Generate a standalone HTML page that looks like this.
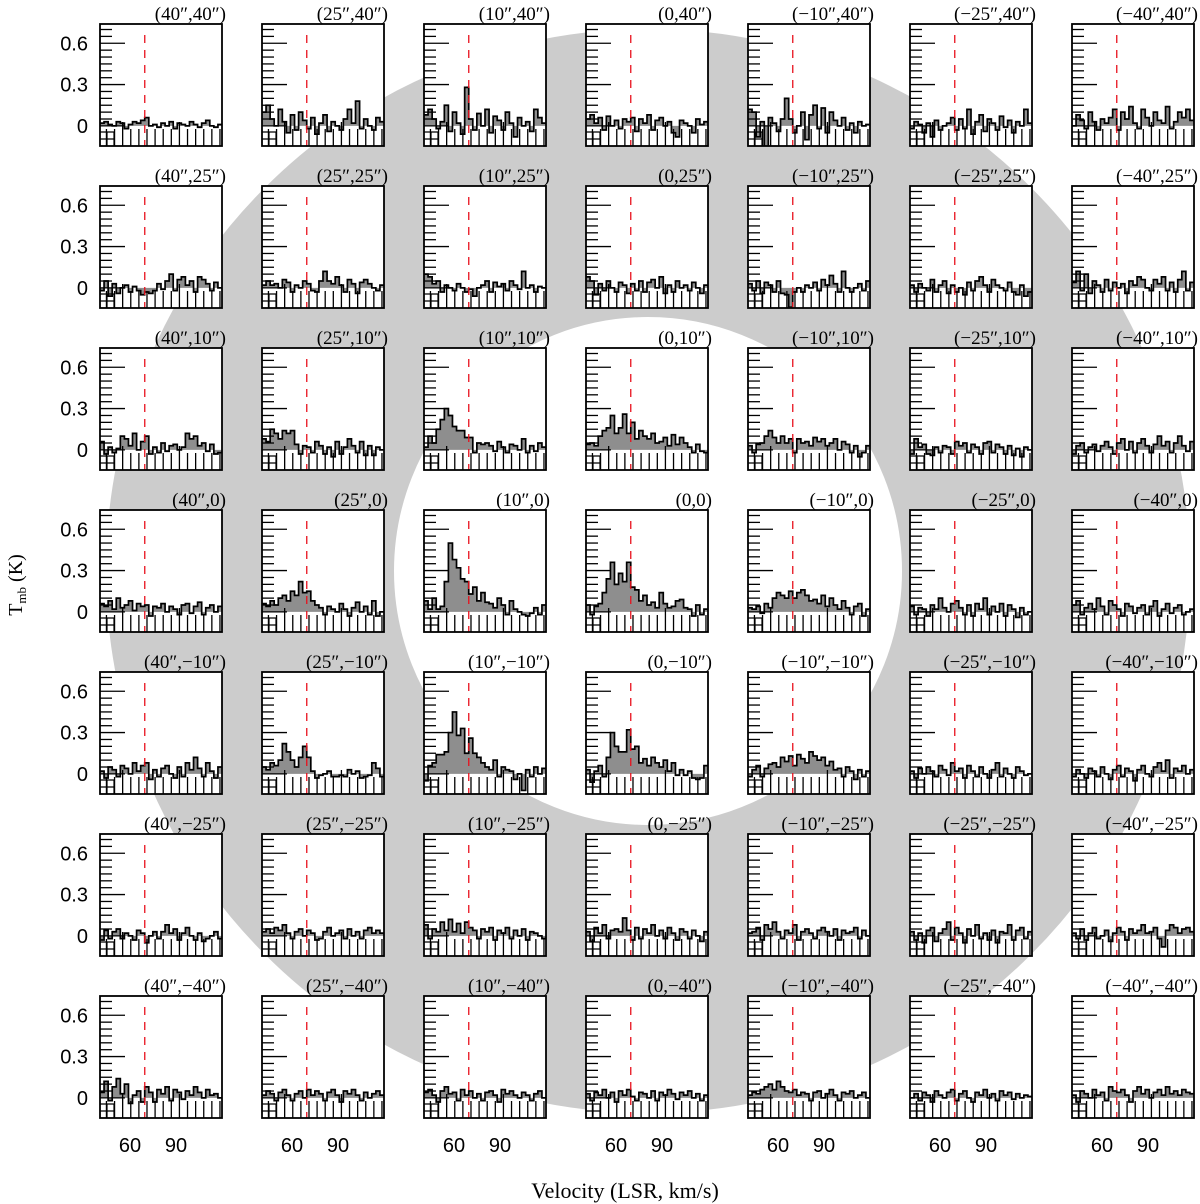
<!DOCTYPE html>
<html><head><meta charset="utf-8"><style>
body{margin:0;background:#fff}
svg{display:block}
</style></head><body>
<svg id="chart" width="1200" height="1204" viewBox="0 0 1200 1204" xmlns="http://www.w3.org/2000/svg">
<circle cx="648" cy="571" r="398" fill="none" stroke="#cccccc" stroke-width="288"/>
<g id="panels"></g>
<text transform="translate(22,585) rotate(-90)" text-anchor="middle" font-family="Liberation Serif, serif" font-size="20">T<tspan font-size="13" dy="4">mb</tspan><tspan dy="-4"> (K)</tspan></text>
<text x="625" y="1198" text-anchor="middle" font-family="Liberation Serif, serif" font-size="22">Velocity (LSR, km/s)</text>
</svg>
<script>
const xOffsets = ["40″","25″","10″","0","−10″","−25″","−40″"];
const yOffsets = ["40″","25″","10″","0","−10″","−25″","−40″"];
const yTickLabels = ["0","0.3","0.6"];
const yTickValues = [0,0.3,0.6];
const xTickLabels = ["60","90"];
const vStart = 48, vEnd = 112.6;
const vRef = 71.7;
// spectra in units of 0.01 K, rows = y offset (40..-40), cols = x offset (40..-40)
const spectra = [
[
[2,3,1,0,3,2,-2,1,3,2,4,6,0,1,-1,2,0,3,-2,2,1,0,3,1,-1,2,4,0,-1,1],
[10,15,5,0,12,3,-5,8,-3,10,4,-2,6,-6,2,8,-4,3,0,-3,5,12,2,18,-2,5,0,-3,6,3],
[8,12,5,-2,3,15,-4,10,2,-6,28,5,-3,9,0,12,-5,7,4,-3,10,2,-8,6,0,3,-4,12,6,2],
[5,8,2,6,-3,7,0,4,-2,5,3,6,-4,5,2,8,-3,4,6,0,3,-5,-8,4,2,0,-5,5,1,3],
[12,10,-8,3,-15,6,2,-4,5,20,5,-5,0,10,-10,8,15,-2,13,-5,10,4,0,6,-3,2,-5,3,0,1],
[-2,3,1,-5,2,-8,4,-3,0,2,6,-3,5,-2,12,-6,3,8,-4,5,2,-3,7,-1,4,-5,3,0,12,2],
[0,8,4,-2,10,3,-3,5,2,6,12,-3,10,5,14,2,-2,12,6,0,10,4,2,14,-2,3,10,6,12,4]
],[
[-2,5,-6,3,-4,0,2,-3,1,-2,-5,-3,-4,-2,3,-1,5,10,-2,6,8,2,5,-3,8,6,3,-2,4,0],
[2,5,2,3,0,6,4,-3,2,0,5,3,-2,-3,5,12,5,3,8,2,-3,6,3,-4,4,6,3,0,-2,2],
[10,8,3,5,-3,2,0,-2,3,0,-3,-1,-6,0,2,5,-3,4,1,3,-2,5,2,-1,12,0,2,-3,1,0],
[8,5,-5,3,-2,5,0,-3,4,2,-4,3,-2,5,-3,4,6,0,8,-4,2,-3,5,0,2,-2,4,0,-4,2],
[3,-2,5,-4,4,2,-3,5,-4,-5,-14,-3,0,-3,2,0,4,-2,6,2,9,3,-3,12,0,-3,0,3,-2,5],
[2,-3,3,0,-2,6,-3,2,5,-4,2,-3,0,-5,4,-2,5,8,2,-3,6,2,0,-2,4,-3,-5,2,-6,-3],
[4,12,-2,10,-4,5,2,-3,6,-2,4,0,3,-4,5,2,8,6,0,-2,6,3,8,-2,4,-3,6,12,-2,4]
],[
[6,-3,2,-2,1,10,8,3,12,0,6,10,-3,2,-2,5,-1,3,4,0,2,12,8,10,3,5,-1,4,-3,-2],
[8,6,15,12,8,14,12,14,4,-3,3,2,-2,6,3,-3,2,-5,6,-3,2,8,3,-2,6,-4,3,-4,2,0],
[2,10,5,15,22,30,25,17,14,14,9,9,-2,5,4,5,3,-1,6,2,-2,4,3,0,8,-2,3,-1,5,2],
[4,5,3,10,14,16,25,12,16,26,12,20,8,14,10,8,12,5,6,9,3,11,4,9,5,2,-2,4,-1,-2],
[3,-2,4,5,10,14,9,5,10,5,8,-2,8,5,6,3,9,6,8,3,5,8,0,6,4,-2,3,-5,-2,3],
[-3,8,2,4,-3,-4,2,-2,3,2,-3,6,3,5,-2,4,2,-3,5,6,-2,4,2,-3,3,-4,1,-5,2,0],
[-3,3,5,-2,2,4,-1,3,6,2,-3,5,8,0,6,-2,5,8,3,-2,4,10,3,6,-2,5,10,3,-1,6]
],[
[6,4,8,2,10,3,5,8,1,6,4,5,-3,4,3,6,0,4,2,-2,5,6,-1,4,7,-2,3,5,0,4],
[6,4,8,5,10,12,8,15,12,22,14,15,8,5,3,-2,4,2,0,6,2,-3,3,7,0,4,-2,8,-3,0],
[8,2,10,2,4,22,50,38,32,24,22,13,18,8,14,7,6,3,10,5,-2,8,2,0,-2,-3,-1,3,-2,5],
[5,-2,4,6,14,24,36,20,28,22,36,18,16,8,12,5,7,3,14,6,3,4,8,9,3,2,-3,5,-2,2],
[3,2,4,-1,6,3,10,14,12,10,15,10,14,16,12,8,9,6,12,4,10,5,2,8,3,-2,4,6,-3,2],
[4,-2,3,2,-3,5,2,10,3,0,6,8,3,-2,5,-3,6,2,10,-2,4,0,6,-3,5,2,-4,3,-2,0],
[5,8,-2,3,6,2,10,4,-2,8,5,2,-3,6,4,-1,3,5,-2,4,8,-3,2,6,-1,3,5,-2,0,2]
],[
[2,-3,5,3,-2,6,4,0,8,2,6,8,-4,3,-2,4,6,0,-3,5,-2,8,3,12,4,-2,8,2,-3,5],
[5,3,8,6,10,22,16,10,5,12,20,12,2,-3,-1,0,2,-2,-2,-1,-2,3,0,2,-3,-2,-1,8,4,-2],
[-5,6,8,14,14,16,30,45,28,33,15,26,15,12,8,5,3,10,-2,5,3,2,-4,0,-12,3,-2,5,0,4],
[3,-6,2,6,-2,12,30,20,16,16,32,18,20,8,11,6,12,8,5,10,2,8,-1,3,-1,2,-3,-4,-3,6],
[-2,3,6,-2,4,7,8,5,12,9,13,6,14,11,8,16,13,10,12,6,9,3,4,-2,5,2,-4,3,-2,2],
[2,-3,4,0,5,2,-2,6,3,-1,8,2,4,-3,6,2,-2,5,0,-3,3,8,-2,4,0,-3,5,2,-1,0],
[-2,3,0,-3,4,2,-2,5,0,-4,3,6,-2,4,2,-5,3,6,0,-2,5,8,2,10,-3,4,2,6,0,3]
],[
[-3,4,-2,3,5,-2,2,0,-3,4,2,-5,0,3,-2,3,8,2,5,-3,2,6,0,-3,2,-4,-2,0,3,-2],
[3,5,2,6,4,8,2,-2,3,5,0,4,2,-3,-2,3,6,0,2,4,-2,5,0,3,-2,4,6,2,4,2],
[8,-2,5,3,10,4,12,3,9,2,10,6,4,-2,5,3,6,-3,4,2,6,-2,4,0,5,-3,3,2,0,-2],
[3,-4,6,2,8,-2,4,5,3,13,4,-3,6,-2,5,2,8,0,4,-2,6,2,-3,5,3,-2,4,0,-4,3],
[2,3,6,-3,8,5,10,3,-2,4,2,8,-3,3,5,2,-2,4,6,3,0,5,-3,4,2,3,6,-2,4,0],
[3,-3,2,-5,4,6,-4,2,5,10,-3,6,2,-5,5,0,8,-2,2,-3,4,-5,3,2,8,-3,4,6,-2,3],
[2,-2,5,-3,2,6,-2,0,4,-4,2,6,3,-3,5,2,4,8,2,3,6,-2,-8,4,8,6,2,5,6,3]
],[
[4,12,-2,8,14,3,10,-4,2,5,-3,8,4,-3,6,3,8,-2,6,4,-1,5,2,8,4,0,6,2,3,0],
[2,5,3,-2,4,6,2,-2,3,5,0,6,2,5,3,-2,4,6,2,-3,5,3,6,2,-2,4,0,3,5,2],
[4,6,2,-3,5,8,3,4,-2,6,2,5,0,3,-2,4,5,2,-3,6,3,5,2,0,4,2,-2,3,5,0],
[3,-2,4,2,6,0,4,-3,5,2,6,1,-2,4,3,0,5,-2,4,2,6,3,-1,4,2,5,0,3,-2,2],
[2,4,3,6,8,10,6,12,8,5,4,6,2,4,3,-2,4,5,0,3,6,2,-2,4,3,5,0,2,4,0],
[0,3,-2,4,2,-3,5,2,0,4,6,-2,3,5,0,-3,4,2,6,0,3,-2,5,2,4,-1,3,0,2,1],
[2,-3,5,3,0,6,2,4,-2,8,5,4,6,2,-3,5,8,3,6,0,4,6,2,8,3,5,2,6,4,3]
]];

const NS="http://www.w3.org/2000/svg";
const W=122,H=122,X0=100,Y0=24,STEP=162;
const yMin=-0.146,yMax=0.74;
function mk(tag,attrs,parent){const e=document.createElementNS(NS,tag);for(const k in attrs)e.setAttribute(k,attrs[k]);parent.appendChild(e);return e;}
const root=document.getElementById('panels');
for(let r=0;r<7;r++){for(let c=0;c<7;c++){
  const L=X0+c*STEP,T=Y0+r*STEP;
  const xs=v=>L+(v-vStart)/(vEnd-vStart)*W;
  const ys=t=>T+(yMax-t)/(yMax-yMin)*H;
  const g=mk('g',{},root);
  
  
  const bg=mk('rect',{x:L,y:T,width:W,height:H,fill:'#fff'},g);
  
  
  const cid='clip'+r+'_'+c;
  const cp=mk('clipPath',{id:cid},g);mk('rect',{x:L,y:T,width:W,height:H},cp);
  const inner=mk('g',{'clip-path':'url(#'+cid+')'},g);
  const data=spectra[r][c];
  const n=data.length,dv=(vEnd-vStart)/n;
  const y0=ys(0);
  let d='M'+xs(vStart)+','+y0;
  let line='';
  for(let i=0;i<n;i++){
    const yy=ys(data[i]/100);
    d+=' L'+xs(vStart+i*dv)+','+yy+' L'+xs(vStart+(i+1)*dv)+','+yy;
    line+=(i===0?'M':' L')+xs(vStart+i*dv)+','+yy+' L'+xs(vStart+(i+1)*dv)+','+yy;
  }
  d+=' L'+xs(vEnd)+','+y0+' Z';
  const fill=mk('path',{d:d,fill:'#8e8e8e',stroke:'none'},inner);
  
  
  const xt=mk('g',{stroke:'#000','stroke-width':1.3},inner);
  const tickStep=30/3.7;
  for(let k=-3;k<14;k++){
    const x=xs(60)+k*tickStep;
    if(x<=L+2||x>=L+W-1)continue;
    const major=(k===0||k===7);
    mk('line',{x1:x,x2:x,y1:T+H,y2:T+H-(major?24:17)},xt);
  }
  const hist=mk('path',{d:line,fill:'none',stroke:'#000','stroke-width':1.7},inner);
  
  
  const yt=mk('g',{stroke:'#000','stroke-width':1.3},inner);
  for(let k=1;k<=14;k++){
    const t=k*0.05;const y=ys(t);
    const major=(k===6||k===12);
    mk('line',{x1:L,x2:L+(major?25:12),y1:y,y2:y},yt);
  }
  mk('line',{x1:L,x2:L+25,y1:y0,y2:y0},yt);
  mk('path',{d:`M${L},${T+H-14} H${L+14} V${T+H} M${L},${T+H-7} H${L+14} M${L+7},${T+H-14} V${T+H}`,fill:'none',stroke:'#000','stroke-width':1.2},inner);
  const ref=mk('line',{x1:xs(vRef),x2:xs(vRef),y1:T+11,y2:T+H,stroke:'#e8101c','stroke-width':1.3,'stroke-dasharray':'8,7'},inner);
  
  
  const fr=mk('rect',{x:L,y:T,width:W,height:H,fill:'none',stroke:'#000','stroke-width':1.8},g);
  
  
  const lbl=mk('text',{x:L+W+4,y:T-4,'text-anchor':'end','font-family':'Liberation Serif, serif','font-size':'19'},g);
  
  
  lbl.textContent='('+xOffsets[c]+','+yOffsets[r]+')';
  if(c===0){
    for(let k=0;k<yTickLabels.length;k++){
      const tl=mk('text',{x:L-12,y:ys(yTickValues[k])+7,'text-anchor':'end','font-family':'Liberation Sans, sans-serif','font-size':'20'},g);
      
      
      tl.textContent=yTickLabels[k];
    }
  }
  if(r===6){
    for(let k=0;k<xTickLabels.length;k++){
      const tl=mk('text',{x:L+30+46*k,y:T+H+34,'text-anchor':'middle','font-family':'Liberation Sans, sans-serif','font-size':'20'},g);
      
      
      tl.textContent=xTickLabels[k];
    }
  }
}}
</script>
</body></html>
